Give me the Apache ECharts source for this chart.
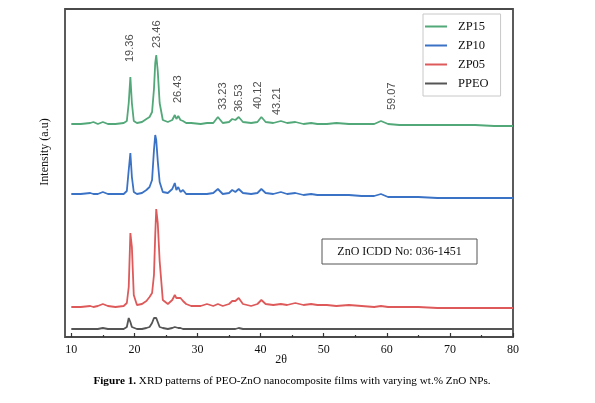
<!DOCTYPE html>
<html style="height: 100%">
<head>
    <meta charset="utf-8">
</head>
<body style="height: 100%; margin: 0">
<div id="container" style="width: 595px; height: 403px"></div>

<script type="text/javascript" src="https://cdn.jsdelivr.net/npm/echarts@6/dist/echarts.min.js"></script>

<script type="text/javascript">
    // 2θ sampling points shared by all four patterns
    var twoTheta = [10, 11.5, 13, 13.5, 14.2, 15, 15.8, 17, 18.3, 18.8,
        19.1, 19.36, 19.6, 19.9, 20.4, 21.2, 21.9, 22.4, 22.8, 23.1,
        23.3, 23.46, 23.7, 24.0, 24.5, 25.3, 26.0, 26.4, 26.65, 26.95,
        27.3, 27.7, 28.2, 29, 30.5, 31.5, 32.5, 33.23, 34, 35,
        35.5, 36, 36.53, 37.2, 38.5, 39.5, 40.12, 40.8, 42, 43.21,
        44.2, 45.5, 46.8, 48, 49, 50.5, 52, 54, 56, 58,
        59.07, 60.2, 62, 65, 68, 71, 74, 77, 80];

    // intensities (a.u.), already offset as stacked in the figure
    var zp15 = [213, 213, 214, 215, 213, 215, 213, 213, 214, 216,
        234, 260, 234, 216, 214, 215, 218, 220, 225, 248,
        274, 282, 266, 234, 217, 215, 217, 222, 218, 221,
        217, 216, 214, 214, 213, 214, 214, 220, 214, 215,
        218, 217, 220, 215, 214, 215, 220, 215, 214, 216,
        214, 215, 213, 214, 213, 213, 214, 213, 213, 213,
        216, 213, 212, 212, 212, 212, 212, 211, 211];

    var zp10 = [143, 143, 144, 143, 143, 145, 143, 143, 143, 146,
        167, 184, 160, 145, 143, 144, 147, 150, 157, 187,
        202, 197, 176, 155, 145, 144, 148, 154, 147, 150,
        145, 147, 143, 143, 143, 143, 144, 148, 143, 144,
        147, 145, 148, 144, 143, 144, 148, 144, 143, 145,
        143, 144, 142, 143, 142, 142, 142, 142, 141, 141,
        143, 140, 140, 140, 139, 139, 139, 139, 139];

    var zp05 = [30, 30, 31, 30, 31, 33, 31, 30, 31, 34,
        50, 104, 90, 42, 32, 33, 36, 40, 44, 62,
        102, 128, 114, 76, 37, 33, 37, 42, 39, 41,
        39, 36, 33, 31, 31, 33, 31, 33, 31, 33,
        36, 36, 39, 33, 31, 33, 37, 33, 32, 33,
        32, 34, 32, 33, 32, 32, 31, 32, 31, 30,
        31, 30, 30, 30, 29, 29, 29, 29, 29];

    var ppeo = [8, 8, 8, 8, 8, 9, 8, 8, 8, 10,
        19, 15, 10, 9, 8, 8, 9, 10, 14, 19,
        20, 19, 15, 10, 9, 8, 9, 10, 9, 9,
        9, 8, 8, 8, 8, 8, 8, 8, 8, 8,
        8, 8, 9, 8, 8, 8, 8, 8, 8, 8,
        8, 8, 8, 8, 8, 8, 8, 8, 8, 8,
        8, 8, 8, 8, 8, 8, 8, 8, 8];

    var seriesNames = ['ZP15', 'ZP10', 'ZP05', 'PPEO'];
    var seriesValues = [zp15, zp10, zp05, ppeo];
    var colors = ['#52a878', '#3a72c6', '#de5a5a', '#555555'];

    // peak annotations: text, and where the text sits [2θ, intensity]
    var peakLabels = ['19.36', '23.46', '26.43', '33.23', '36.53', '40.12', '43.21', '59.07'];
    var peakLabelAt = [[19.35, 275], [23.5, 289], [26.96, 234], [34.1, 227],
        [36.5, 225], [39.6, 228], [42.6, 222], [60.8, 227]];

    var majorTicks = [10, 20, 30, 40, 50, 60, 70, 80];
    var minorTicks = [15, 25, 35, 45, 55, 65, 75];

    var dom = document.getElementById('container');
    var myChart = echarts.init(dom, null, {renderer: 'canvas'});

    var series = seriesNames.map(function (name, i) {
        return {
            name: name,
            type: 'line',
            showSymbol: false,
            data: twoTheta.map(function (x, j) {
                return [x, seriesValues[i][j]];
            }),
            lineStyle: {width: 1.8, color: colors[i]},
            itemStyle: {color: colors[i]},
            z: 4 - i
        };
    });

    series.push({
        name: 'peaks',
        type: 'scatter',
        symbolSize: 0,
        silent: true,
        data: peakLabelAt.map(function (p, i) {
            return {value: p, name: peakLabels[i]};
        }),
        label: {
            show: true,
            position: 'inside',
            rotate: 90,
            align: 'left',
            verticalAlign: 'middle',
            formatter: function (p) { return p.name; },
            fontFamily: 'Liberation Sans',
            fontSize: 11,
            color: '#222'
        }
    });

    var serif = 'Liberation Serif';

    var option = {
        animation: false,
        backgroundColor: '#fff',
        grid: {
            left: 65, right: 82, top: 9, bottom: 66,
            show: true,
            borderColor: '#4a4a4a',
            borderWidth: 1.8
        },
        legend: {
            data: seriesNames,
            orient: 'vertical',
            left: 423,
            top: 14,
            icon: 'rect',
            itemWidth: 22,
            itemHeight: 2,
            itemGap: 6,
            padding: [6, 12, 6, 2],
            borderColor: '#c8c8c8',
            borderWidth: 1,
            backgroundColor: '#fff',
            textStyle: {fontFamily: serif, fontSize: 12.5, color: '#111', padding: [0, 0, 0, 6]}
        },
        xAxis: [{
            type: 'value',
            min: 9,
            max: 80,
            axisLine: {show: false},
            splitLine: {show: false},
            axisTick: {inside: true, length: 4, lineStyle: {color: '#333', width: 1.2}, customValues: majorTicks},
            axisLabel: {customValues: majorTicks, margin: 7, fontFamily: serif, fontSize: 12, color: '#111'}
        }, {
            type: 'value',
            min: 9,
            max: 80,
            position: 'bottom',
            axisLine: {show: false},
            splitLine: {show: false},
            axisTick: {inside: true, length: 2, lineStyle: {color: '#333', width: 1.2}, customValues: minorTicks},
            axisLabel: {show: false}
        }],
        yAxis: {
            type: 'value',
            min: 0,
            max: 328,
            axisLine: {show: false},
            axisTick: {show: false},
            axisLabel: {show: false},
            splitLine: {show: false}
        },
        graphic: [{
            type: 'rect',
            shape: {x: 322, y: 239, width: 155, height: 25},
            style: {fill: '#fff', stroke: '#555', lineWidth: 1},
            z: 100
        }, {
            type: 'text',
            x: 399.5, y: 252,
            style: {text: 'ZnO ICDD No: 036-1451', fontFamily: serif, fontSize: 12, fill: '#111',
                align: 'center', verticalAlign: 'middle'},
            z: 101
        }, {
            type: 'text',
            x: 45, y: 152,
            rotation: Math.PI / 2,
            style: {text: 'Intensity (a.u)', fontFamily: serif, fontSize: 12, fill: '#111',
                align: 'center', verticalAlign: 'middle'}
        }, {
            type: 'text',
            x: 281, y: 360,
            style: {text: '2θ', fontFamily: serif, fontSize: 12, fill: '#111',
                align: 'center', verticalAlign: 'middle'}
        }, {
            type: 'text',
            x: 292, y: 381,
            style: {
                text: '{b|Figure 1.} XRD patterns of PEO-ZnO nanocomposite films with varying wt.% ZnO NPs.',
                fontFamily: serif, fontSize: 11.2, fill: '#000',
                align: 'center', verticalAlign: 'middle',
                rich: {b: {fontFamily: serif, fontSize: 11.2, fontWeight: 'bold', fill: '#000'}}
            }
        }],
        series: series
    };

    myChart.setOption(option);
</script>
</body>
</html>
